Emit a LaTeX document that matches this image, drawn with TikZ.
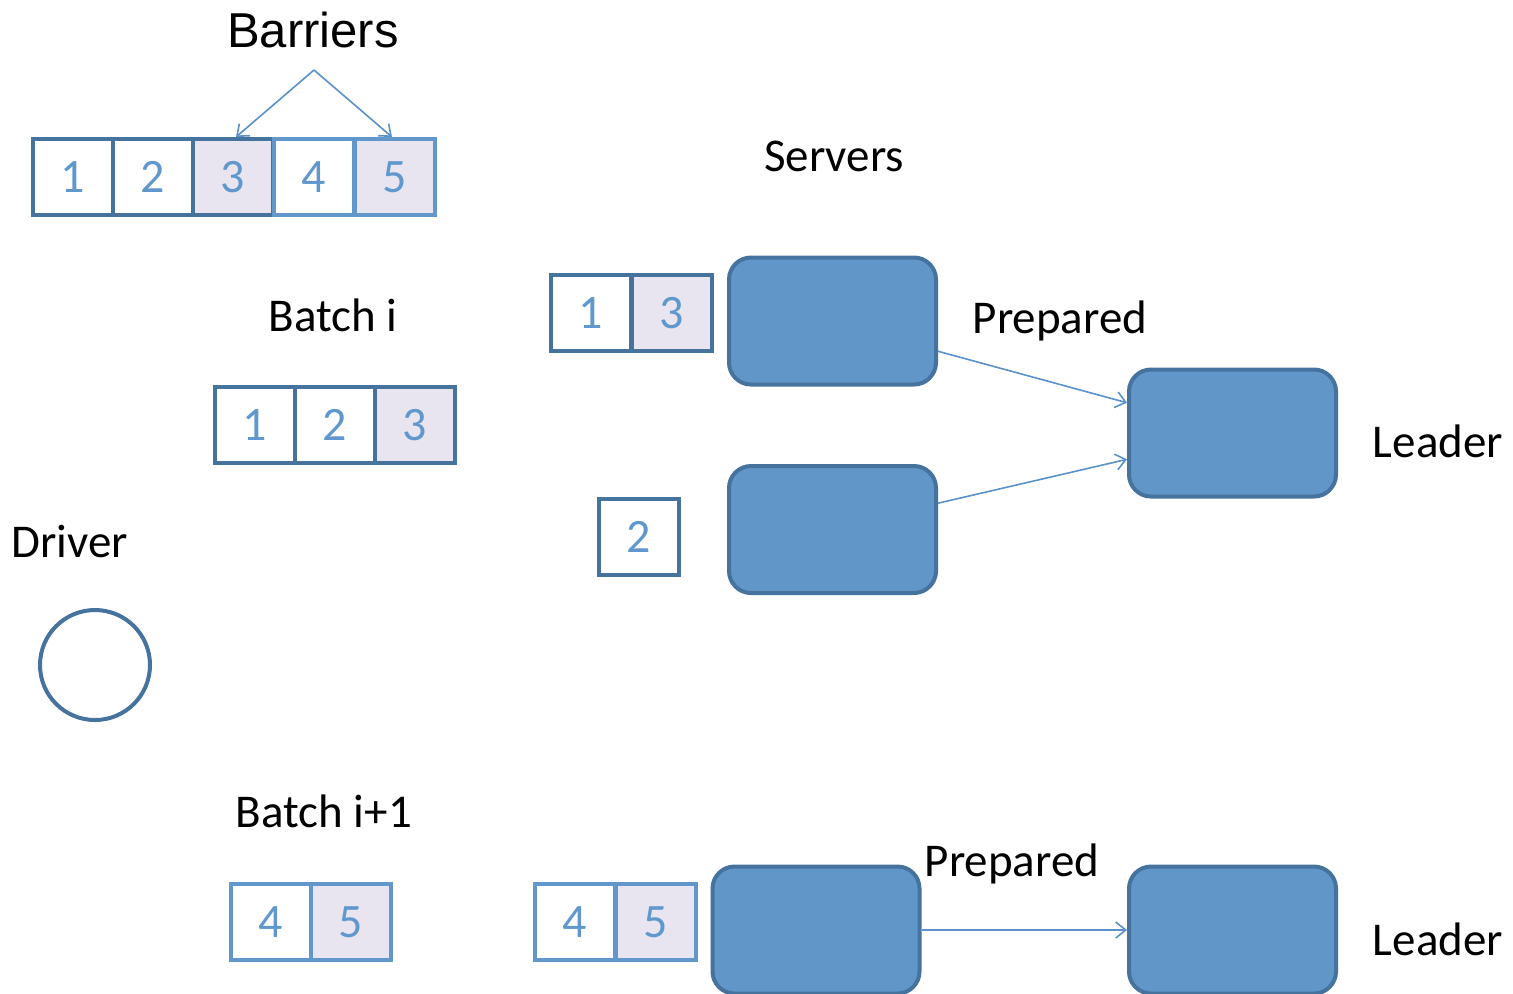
\documentclass[tikz,border=0pt]{standalone}
\usepackage{fontspec}
\setmainfont{Carlito}
\newfontfamily\headfont{Liberation Sans}
\usetikzlibrary{arrows.meta}

\definecolor{edgedark}{RGB}{70,114,158}
\definecolor{edgelight}{RGB}{98,151,204}
\definecolor{boxfill}{RGB}{97,150,200}
\definecolor{markfill}{RGB}{233,229,240}
\definecolor{digit}{RGB}{96,152,206}
\definecolor{link}{RGB}{91,145,202}

\tikzset{
  cell/.style={draw, line width=2pt, minimum width=40pt, minimum height=38pt,
    inner sep=0pt, text=digit, font=\fontsize{24pt}{28pt}\selectfont},
  darkcell/.style={cell, draw=edgedark, fill=white},
  lightcell/.style={cell, draw=edgelight, fill=white},
  marked/.style={fill=markfill},
  server/.style={draw=edgedark, fill=boxfill, line width=2pt, rounded corners=11pt,
    minimum width=103.5pt, minimum height=63.5pt, inner sep=0pt},
  label/.style={anchor=base, inner sep=0pt, font=\fontsize{23.5pt}{28pt}\selectfont},
  msg/.style={draw=link, line width=0.8pt, -{Straight Barb[length=5pt,width=8pt,line width=0.8pt]}},
}

\begin{document}
\begin{tikzpicture}[x=0.5pt, y=-0.5pt]
\useasboundingbox (0,0) rectangle (1513,993);

% headings and captions
\node[label, font=\headfont\fontsize{24.5pt}{29pt}\selectfont] (tBarriers) at (313,47) {Barriers};
\node[label] (tServers) at (834,171) {Servers};
\node[label] (tBatchI) at (333,331) {Batch i};
\node[label] (tPrep1) at (1060,333) {Prepared};
\node[label] (tLeader1) at (1438,457) {Leader};
\node[label] (tDriver) at (70,557) {Driver};
\node[label] (tBatchJ) at (324,827) {Batch i+1};
\node[label] (tPrep2) at (1012,876) {Prepared};
\node[label] (tLeader2) at (1438,955) {Leader};

% full transaction sequence
\node[darkcell] (b1) at (73,177) {1};
\node[darkcell] (b2) at (153,177) {2};
\node[darkcell, marked] (b3) at (233,177) {3};
\node[lightcell] (b4) at (314,177) {4};
\node[lightcell, marked] (b5) at (395,177) {5};

% barrier pointers
\coordinate (apex) at (314,70);
\draw[msg] (apex) -- ([xshift=1.5pt]b3.north);
\draw[msg] (apex) -- ([xshift=-1.5pt]b5.north);

% batch i at the driver
\node[darkcell] (p1) at (255,425) {1};
\node[darkcell] (p2) at (335,425) {2};
\node[darkcell, marked] (p3) at (415,425) {3};

% batch i+1 at the driver
\node[lightcell] (q4) at (271,922) {4};
\node[lightcell, marked] (q5) at (351,922) {5};

% driver
\node[circle, draw=edgedark, line width=2pt, minimum size=55pt, inner sep=0pt] (driver) at (95,665) {};

% servers and their shares of batch i
\node[darkcell] (s1a) at (591,313) {1};
\node[darkcell, marked] (s1b) at (672,313) {3};
\node[darkcell] (s2a) at (639,537) {2};
\node[server] (srv1) at (832.5,321) {};
\node[server] (srv2) at (832.5,529.5) {};
\node[server] (lead1) at (1232.5,433) {};

% server and leader for batch i+1
\node[lightcell] (s3a) at (575,922) {4};
\node[lightcell, marked] (s3b) at (656,922) {5};
\node[server] (srv3) at (816,930) {};
\node[server] (lead2) at (1232.5,930) {};

% prepared messages
\draw[msg] (srv1.-16) -- (lead1.164);
\draw[msg] (srv2.14) -- (lead1.-166);
\draw[msg] (srv3.east) -- (lead2.west);
\end{tikzpicture}
\end{document}
